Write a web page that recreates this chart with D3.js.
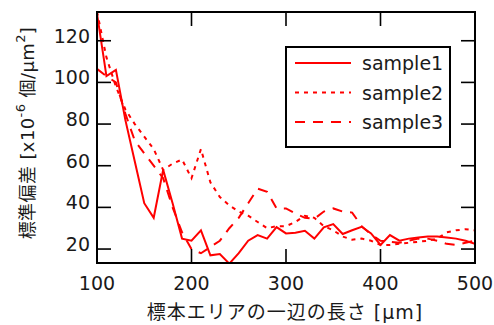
<!DOCTYPE html>
<html>
<head>
<meta charset="utf-8">
<script src="https://cdn.jsdelivr.net/npm/d3@7"></script>
<style>
  body { margin: 0; background: #fff; }
  text { font-family: "DejaVu Sans", "Noto Sans CJK JP", sans-serif; fill: #1a1a1a; }
</style>
</head>
<body>
<div id="chart"></div>
<script>
// Data (x = side length in um)
const lengths = d3.range(100, 501, 10);
const sample1 = [133, 103, 106, 82, 62, 42, 35, 58, 42, 25, 24, 29, 17, 17.6, 13, 18, 24, 26.7, 25, 30.5,
  27.5, 27.8, 28.8, 25, 30.4, 32, 27.2, 29, 30.7, 27.5, 22, 26.7, 24, 25, 25.5, 26, 26, 25.5, 25, 24, 22.5];
const sample2 = [134, 112, 98, 87, 80, 74, 68, 58, 61, 63, 54, 68, 52, 45, 41, 38, 36, 33, 30, 31,
  31, 33, 36, 35, 31, 29, 26, 24.5, 25, 24, 22, 22, 22.5, 23, 23.5, 24, 25, 28, 29, 29.5, 29];
const sample3 = [106.5, 103, 100, 85, 72, 66, 60, 54, 40, 28, 20, 18, 21, 24, 30, 35, 42, 49, 47.5, 39.5,
  39.5, 37, 35, 34.5, 38, 39.5, 38, 37.5, 31, 27, 24, 23.5, 23, 24, 25, 25, 24, 22.5, 22, 23, 24];
const seriesNames = ["sample1", "sample2", "sample3"];
const xTicks = [100, 200, 300, 400, 500];
const yTicks = [20, 40, 60, 80, 100, 120];

const W = 494, H = 325;
const margin = { top: 12, right: 19, bottom: 62, left: 97 };

const svg = d3.select("#chart").append("svg")
  .attr("width", W)
  .attr("height", H);

const x = d3.scaleLinear().domain([100, 500]).range([margin.left, W - margin.right]);
const y = d3.scaleLinear().domain([13.3, 133.8]).range([H - margin.bottom, margin.top]);

// clip
svg.append("clipPath").attr("id", "clip")
  .append("rect")
  .attr("x", x(100)).attr("y", y(133.8))
  .attr("width", x(500) - x(100)).attr("height", y(13.3) - y(133.8));

const styles = [
  { dash: null },
  { dash: "4,5" },
  { dash: "10,8" }
];

const line = d3.line()
  .x((d, i) => x(lengths[i]))
  .y(d => y(d));

svg.append("g")
  .attr("clip-path", "url(#clip)")
  .selectAll("path")
  .data([sample1, sample2, sample3])
  .join("path")
  .attr("d", line)
  .attr("fill", "none")
  .attr("stroke", "#ff0000")
  .attr("stroke-width", 2)
  .attr("stroke-dasharray", (d, i) => styles[i].dash);

// inward ticks on all four sides
const tickLen = 14;
const axes = svg.append("g").attr("stroke", "#000").attr("stroke-width", 1.6);
xTicks.forEach(t => {
  axes.append("line").attr("x1", x(t)).attr("x2", x(t)).attr("y1", y(13.3)).attr("y2", y(13.3) - tickLen);
  axes.append("line").attr("x1", x(t)).attr("x2", x(t)).attr("y1", y(133.8)).attr("y2", y(133.8) + tickLen);
});
yTicks.forEach(t => {
  axes.append("line").attr("x1", x(100)).attr("x2", x(100) + tickLen).attr("y1", y(t)).attr("y2", y(t));
  axes.append("line").attr("x1", x(500)).attr("x2", x(500) - tickLen).attr("y1", y(t)).attr("y2", y(t));
});

// frame
svg.append("rect")
  .attr("x", x(100)).attr("y", y(133.8))
  .attr("width", x(500) - x(100)).attr("height", y(13.3) - y(133.8))
  .attr("fill", "none").attr("stroke", "#000").attr("stroke-width", 2);

// tick labels
svg.append("g").selectAll("text")
  .data(xTicks)
  .join("text")
  .attr("x", d => x(d))
  .attr("y", 290)
  .attr("text-anchor", "middle")
  .attr("font-size", 19)
  .text(d => d);

svg.append("g").selectAll("text")
  .data(yTicks)
  .join("text")
  .attr("x", 90)
  .attr("y", d => y(d) + 2)
  .attr("text-anchor", "end")
  .attr("font-size", 19)
  .text(d => d);

// axis titles
svg.append("text")
  .attr("x", 285)
  .attr("y", 319)
  .attr("text-anchor", "middle")
  .attr("font-size", 19)
  .attr("letter-spacing", 1)
  .text("標本エリアの一辺の長さ [μm]");

const yl = svg.append("text")
  .attr("transform", "translate(34,133) rotate(-90)")
  .attr("text-anchor", "middle")
  .attr("font-size", 18)
  .attr("letter-spacing", 0.4);
yl.append("tspan").text("標準偏差 [x10");
yl.append("tspan").attr("dy", -9).attr("font-size", 13).text("-6");
yl.append("tspan").attr("dy", 9).text(" 個/μm");
yl.append("tspan").attr("dy", -9).attr("font-size", 13).text("2");
yl.append("tspan").attr("dy", 9).text("]");

// legend
const legend = svg.append("g");
legend.append("rect")
  .attr("x", 286).attr("y", 47)
  .attr("width", 164).attr("height", 100)
  .attr("fill", "#fff").attr("stroke", "#000").attr("stroke-width", 2);

const item = legend.selectAll("g.item")
  .data(seriesNames)
  .join("g")
  .attr("class", "item")
  .attr("transform", (d, i) => "translate(0," + (63 + i * 29.5) + ")");

item.append("line")
  .attr("x1", 295).attr("x2", 351)
  .attr("stroke", "#ff0000").attr("stroke-width", 2)
  .attr("stroke-dasharray", (d, i) => styles[i].dash);

item.append("text")
  .attr("x", 362)
  .attr("y", 7)
  .attr("font-size", 19)
  .text(d => d);
</script>
</body>
</html>
